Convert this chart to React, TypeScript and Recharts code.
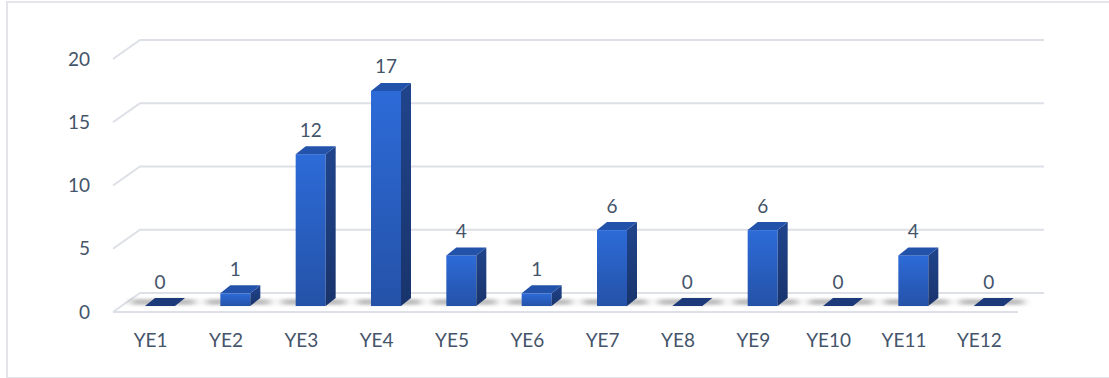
import { Bar, BarChart, CartesianGrid, LabelList, XAxis, YAxis } from "recharts";

const categories = ["YE1", "YE2", "YE3", "YE4", "YE5", "YE6", "YE7", "YE8", "YE9", "YE10", "YE11", "YE12"];
const counts = [0, 1, 12, 17, 4, 1, 6, 0, 6, 0, 4, 0];
const yTicks = [0, 5, 10, 15, 20];

const data = categories.map((name, i) => ({ name, count: counts[i] }));

// 3d offsets (px)
const BAR_DX = 9;
const BAR_DY = -6;
const DEPTH_X = 10;
const DEPTH_Y = -8;
const WALL_DX = 27;
const WALL_DY = -19;

const TEXT = "#44546A";
const FONT = "Lato, 'Open Sans', sans-serif";

function GridLine(props: any) {
  const { x1, x2, y1, index } = props;
  const bx = x1 + WALL_DX;
  const by = y1 + WALL_DY;
  return (
    <g key={`grid-${index}-${y1}`}>
      <polyline
        points={`${x1},${y1} ${bx},${by} ${x2 + WALL_DX},${by}`}
        fill="none"
        stroke="#DDE0E6"
        strokeWidth={2}
      />
      {Math.abs(y1 - 312) < 1 && <line x1={x1} y1={y1} x2={x2 + 1} y2={y1} stroke="#DDE0E6" strokeWidth={2} />}
    </g>
  );
}

function Bar3D(props: any) {
  const { x, y, width, height } = props;
  const fx = x + BAR_DX;
  const fy = y + BAR_DY;
  const w = width;
  const h = Math.max(height, 0);
  const bottom = fy + h;
  return (
    <g>
      <rect x={fx - 14} y={bottom - 7} width={w + 34} height={6} fill="#707070" opacity={0.45} filter="url(#floorShadow)" />
      {h > 0 && (
        <>
          <rect x={fx} y={fy} width={w} height={h} fill="url(#frontGrad)" />
          <polygon
            points={`${fx + w},${fy} ${fx + w + DEPTH_X},${fy + DEPTH_Y} ${fx + w + DEPTH_X},${bottom + DEPTH_Y} ${fx + w},${bottom}`}
            fill="url(#sideGrad)"
          />
        </>
      )}
      <polygon
        points={`${fx},${fy} ${fx + DEPTH_X},${fy + DEPTH_Y} ${fx + w + DEPTH_X},${fy + DEPTH_Y} ${fx + w},${fy}`}
        fill={h > 0 ? "#2352AA" : "#1C3A7A"}
      />
    </g>
  );
}

function ValueLabel(props: any) {
  const { x, y, width, value } = props;
  return (
    <text
      x={x + BAR_DX + width / 2}
      y={y + BAR_DY - 25}
      textAnchor="middle"
      dominantBaseline="central"
      fill={TEXT}
      fontSize={19}
      fontFamily={FONT}
    >
      {value}
    </text>
  );
}

export default function App() {
  return (
    <div style={{ position: "relative", width: 1109, height: 378, background: "#fff", overflow: "hidden" }}>
      <style>{"body{margin:0}"}</style>
      <div
        style={{
          position: "absolute",
          left: 6,
          top: 1,
          width: 1120,
          height: 374,
          border: "2px solid #E3E5E9",
        }}
      />
      <svg width={0} height={0} style={{ position: "absolute" }}>
        <defs>
          <linearGradient id="frontGrad" x1="0" y1="0" x2="0" y2="1">
            <stop offset="0%" stopColor="#2D6BD8" />
            <stop offset="100%" stopColor="#2452A8" />
          </linearGradient>
          <linearGradient id="sideGrad" x1="0" y1="0" x2="0" y2="1">
            <stop offset="0%" stopColor="#20448C" />
            <stop offset="100%" stopColor="#19346C" />
          </linearGradient>
          <filter id="floorShadow" x="-50%" y="-200%" width="200%" height="500%">
            <feGaussianBlur stdDeviation="4 1.5" />
          </filter>
        </defs>
      </svg>
      <div style={{ position: "absolute", left: 0, top: 0 }}>
        <BarChart width={1109} height={378} data={data} margin={{ top: 59, right: 92, bottom: 36, left: 0 }}>
          <CartesianGrid vertical={false} horizontal={(p: any) => <GridLine {...p} />} />
          <XAxis
            dataKey="name"
            height={30}
            axisLine={false}
            tickLine={false}
            tickSize={0}
            tickMargin={22}
            interval={0}
            tick={{ fill: TEXT, fontSize: 19, fontFamily: FONT }}
          />
          <YAxis
            width={113}
            domain={[0, 20]}
            ticks={yTicks}
            axisLine={false}
            tickLine={false}
            tickSize={0}
            tickMargin={23}
            tick={{ fill: TEXT, fontSize: 19, fontFamily: FONT }}
          />
          <Bar dataKey="count" barSize={30} shape={(p: any) => <Bar3D {...p} />} isAnimationActive={false}>
            <LabelList dataKey="count" content={(p: any) => <ValueLabel {...p} />} />
          </Bar>
        </BarChart>
      </div>
    </div>
  );
}
